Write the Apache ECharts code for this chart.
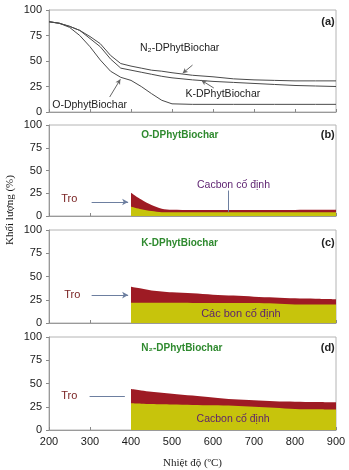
<!DOCTYPE html>
<html>
<head>
<meta charset="utf-8">
<script src="https://cdn.jsdelivr.net/npm/echarts@6/dist/echarts.min.js"></script>
<style>
  html, body { margin: 0; padding: 0; background: #fff; }
  #main { width: 349px; height: 470px; }
</style>
</head>
<body>
<div id="main"></div>
<script>
// (a) đường TGA
var temps = [200, 225, 250, 275, 300, 325, 350, 375, 400, 425, 450, 475, 500, 550, 600, 650, 700, 750, 800, 850, 900];
var n2Mass = [88.5, 87, 84, 80, 74, 67, 55.5, 47.5, 45, 43, 41, 40, 38.5, 36, 34.5, 32.5, 31.5, 31, 30.5, 30.5, 30.5];
var kMass  = [88.5, 87, 84, 80, 72, 64, 52, 43, 41, 39, 37, 35, 33.5, 31.5, 30, 29, 28, 27, 26, 25.5, 25];
var oMass  = [88.5, 87, 83, 75, 64, 51, 40, 34, 31, 25, 18, 11.5, 8, 7.5, 7.5, 7.5, 7.5, 7.5, 7.5, 7.5, 7.5];

// (b)-(d) tổng khối lượng (tro + cacbon) và cacbon cố định
var stageTemps = [400, 425, 450, 475, 500, 550, 600, 650, 700, 750, 800, 850, 900];
var oTotal   = [25.6, 18, 12, 8, 6.8, 6.6, 6.6, 6.6, 6.6, 6.6, 6.7, 6.8, 7];
var oCarbon  = [10.2, 7.5, 5.5, 4.2, 4, 4, 4, 4, 4, 4, 4, 4, 4];
var kTotal   = [39, 37, 35, 34, 33, 32, 30.5, 29.5, 28.3, 27.5, 26.5, 26, 25.5];
var kCarbon  = [21.8, 21.8, 21.8, 21.7, 21.7, 21.6, 21.6, 21.5, 21.5, 21, 20, 20, 20];
var n2Total  = [44, 42.5, 41, 40, 39, 37, 35, 33, 32, 31, 30.5, 30, 29.7];
var n2Carbon = [28.7, 28.3, 28, 27.7, 27.5, 27, 26.5, 26, 25, 24, 22.6, 22.3, 22];

var xTicks = [200, 300, 400, 500, 600, 700, 800, 900];
var yTicks = [0, 25, 50, 75, 100];

var RED = '#9e1b24', YELLOW = '#c7c40c', GREEN = '#2f8a2f', PURPLE = '#5b1f6e', TRO = '#7a2424';
var FONT = 'Liberation Sans';

function pairs(xs, ys) {
  return xs.map(function (x, i) { return [x, ys[i]]; });
}

var tops = [10, 125, 230, 337];
var heights = [102, 91, 93, 93];

var grids = [], xAxes = [], yAxes = [];
for (var i = 0; i < 4; i++) {
  grids.push({ left: 49, right: 13, top: tops[i], height: heights[i], show: true,
    borderColor: '#b4b4b4', borderWidth: 1, backgroundColor: '#fff' });
  xAxes.push({
    type: 'value', gridIndex: i, min: xTicks[0], max: xTicks[xTicks.length - 1], interval: 100,
    axisLine: { lineStyle: { color: '#9a9a9a' } },
    axisTick: { inside: true, length: 3, lineStyle: { color: '#888' } },
    splitLine: { show: false },
    axisLabel: { show: i === 3, fontFamily: FONT, fontSize: 11, color: '#1a1a1a', margin: 6 },
    name: i === 3 ? 'Nhiệt độ (ºC)' : '',
    nameLocation: 'middle', nameGap: 28,
    nameTextStyle: { fontFamily: 'Liberation Serif', fontSize: 11, color: '#1a1a1a' }
  });
  yAxes.push({
    type: 'value', gridIndex: i, min: yTicks[0], max: yTicks[yTicks.length - 1], interval: 25,
    axisLine: { show: true, lineStyle: { color: '#9a9a9a' } },
    axisTick: { show: true, length: 3, lineStyle: { color: '#888' } },
    splitLine: { show: false },
    axisLabel: { fontFamily: FONT, fontSize: 11, color: '#1a1a1a', margin: 7 }
  });
}

function tgaLine(name, data) {
  return { name: name, type: 'line', xAxisIndex: 0, yAxisIndex: 0, data: pairs(temps, data),
    showSymbol: false, symbol: 'none', lineStyle: { color: '#4a4a4a', width: 1 }, z: 3 };
}

function arrowLine(from, to, withHead) {
  return [{ coord: from, symbol: 'none' }, { coord: to, symbol: withHead ? 'arrow' : 'none' }];
}

function stage(idx, total, carbon, troFrom, troTo, head) {
  return [
    { name: 'Tro', type: 'line', xAxisIndex: idx, yAxisIndex: idx, data: pairs(stageTemps, total),
      smooth: 0.3, showSymbol: false, symbol: 'none', lineStyle: { width: 0 },
      areaStyle: { color: RED, opacity: 1 }, z: 2,
      markLine: { silent: true, symbolSize: [5, 6], label: { show: false },
        lineStyle: { color: '#6d7fa0', width: 1, type: 'solid' },
        data: [arrowLine(troFrom, troTo, head)] } },
    { name: 'Cacbon cố định', type: 'line', xAxisIndex: idx, yAxisIndex: idx, data: pairs(stageTemps, carbon),
      smooth: 0.3, showSymbol: false, symbol: 'none', lineStyle: { width: 0 },
      areaStyle: { color: YELLOW, opacity: 1 }, z: 3 }
  ];
}

var series = [
  tgaLine('N2-DPhytBiochar', n2Mass),
  tgaLine('K-DPhytBiochar', kMass),
  tgaLine('O-DphytBiochar', oMass)
];
series[0].markLine = { silent: true, symbolSize: [4, 5], label: { show: false },
  lineStyle: { color: '#666', width: 1, type: 'solid' },
  data: [arrowLine([550, 46], [526, 38], true), arrowLine([602, 23.5], [572, 31], true),
         arrowLine([348, 14.7], [374, 32], true)] };
series = series.concat(
  stage(1, oTotal, oCarbon, [304, 15.4], [393, 15.4], true),
  stage(2, kTotal, kCarbon, [304, 30], [393, 30], true),
  stage(3, n2Total, n2Carbon, [299, 36.6], [385, 36.6], false)
);
// đường dọc trong (b) nối chữ "Cacbon cố định"
series[3].markLine.data.push(arrowLine([636, 28], [636, 4.5], false));

var chart = echarts.init(document.getElementById('main'));
chart.setOption({
  animation: false,
  backgroundColor: '#fff',
  grid: grids, xAxis: xAxes, yAxis: yAxes, series: series
});

function pt(g, x, y) { return chart.convertToPixel({ gridIndex: g }, [x, y]); }

function txt(g, x, y, text, opts) {
  var p = pt(g, x, y);
  return { type: 'text', x: p[0], y: p[1], z: 10, style: {
    text: text, fontFamily: FONT, fontSize: opts.size || 10, fontWeight: opts.weight || 'normal',
    fill: opts.color || '#222', textAlign: opts.align || 'left', textVerticalAlign: 'middle' } };
}

var top = pt(0, 400, 100), bottom = pt(3, 400, 0);
var elements = [
  { type: 'line', z: 1, shape: { x1: top[0], y1: top[1], x2: bottom[0], y2: bottom[1] },
    style: { stroke: '#c4c4c4', lineWidth: 1 } },
  txt(0, 422, 62.7, 'N₂-DPhytBiochar', { size: 10.5 }),
  txt(0, 533, 17.6, 'K-DPhytBiochar', { size: 10.5 }),
  txt(0, 208, 6.9, 'O-DphytBiochar', { size: 10.5 }),
  txt(0, 897, 88, '(a)', { size: 11, weight: 'bold', align: 'right' }),

  txt(1, 425, 89, 'O-DPhytBiochar', { size: 10, weight: 'bold', color: GREEN }),
  txt(1, 897, 89, '(b)', { size: 11, weight: 'bold', align: 'right' }),
  txt(1, 650, 34, 'Cacbon cố định', { size: 10.5, color: PURPLE, align: 'center' }),
  txt(1, 230, 18.7, 'Tro', { size: 11, color: TRO }),

  txt(2, 425, 86, 'K-DPhytBiochar', { size: 10, weight: 'bold', color: GREEN }),
  txt(2, 897, 86, '(c)', { size: 11, weight: 'bold', align: 'right' }),
  txt(2, 668, 9.7, 'Các bon cố định', { size: 11, color: PURPLE, align: 'center' }),
  txt(2, 237, 30, 'Tro', { size: 11, color: TRO }),

  txt(3, 425, 88, 'N₂-DPhytBiochar', { size: 10, weight: 'bold', color: GREEN }),
  txt(3, 897, 88, '(d)', { size: 11, weight: 'bold', align: 'right' }),
  txt(3, 649, 11.8, 'Cacbon cố định', { size: 10.5, color: PURPLE, align: 'center' }),
  txt(3, 230, 36.6, 'Tro', { size: 11, color: TRO }),

  { type: 'text', x: 10, y: 210, rotation: Math.PI / 2, z: 10, style: {
    text: 'Khối lượng (%)', fontFamily: 'Liberation Serif', fontSize: 11, fill: '#1a1a1a',
    textAlign: 'center', textVerticalAlign: 'middle' } }
];
chart.setOption({ graphic: { elements: elements } });
</script>
</body>
</html>
